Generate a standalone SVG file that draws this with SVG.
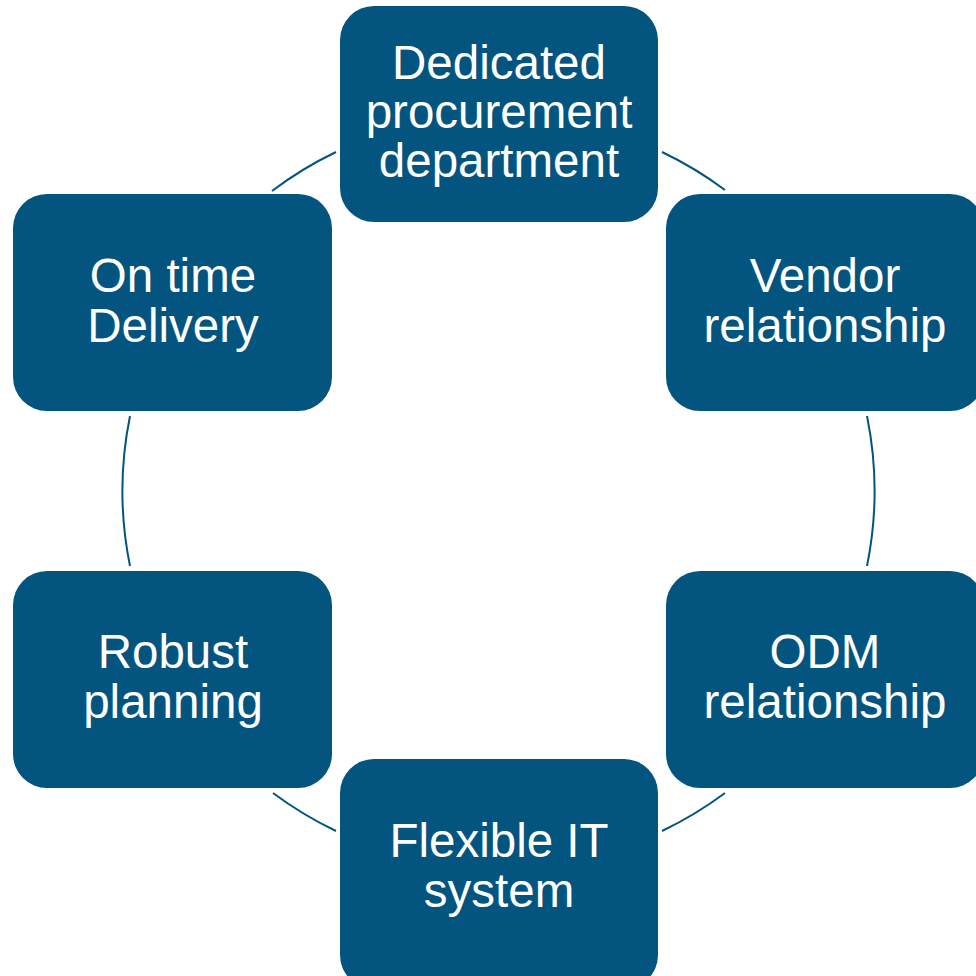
<svg xmlns="http://www.w3.org/2000/svg" width="976" height="976" viewBox="0 0 976 976">
<style>
.box{fill:#03557F;}
.lbl{fill:#FFFFFF;font-family:"Liberation Sans",Arial,sans-serif;font-size:47.5px;text-anchor:middle;}
.arc{fill:none;stroke:#03557F;stroke-width:2;}
</style>
<rect width="976" height="976" fill="#FFFFFF"/>
<g id="connectors">
<path class="arc" d="M 272 191 A 376.5 376.5 0 0 1 336 152"/>
<path class="arc" d="M 662 152 A 376.5 376.5 0 0 1 725 190"/>
<path class="arc" d="M 867 416 A 376.5 376.5 0 0 1 867 566"/>
<path class="arc" d="M 725 793 A 376.5 376.5 0 0 1 662 831"/>
<path class="arc" d="M 336 831 A 376.5 376.5 0 0 1 273 793"/>
<path class="arc" d="M 130 566 A 376.5 376.5 0 0 1 130 416"/>
</g>
<g id="node-procurement">
<rect class="box" x="340" y="6" width="318" height="216" rx="34"/>
<text class="lbl"><tspan x="499" y="79">Dedicated</tspan><tspan x="499" y="128">procurement</tspan><tspan x="499" y="177">department</tspan></text>
</g>
<g id="node-vendor">
<rect class="box" x="666" y="194" width="318" height="217" rx="34"/>
<text class="lbl"><tspan x="825" y="292">Vendor</tspan><tspan x="825" y="342">relationship</tspan></text>
</g>
<g id="node-odm">
<rect class="box" x="666" y="571" width="318" height="217" rx="34"/>
<text class="lbl"><tspan x="825" y="668">ODM</tspan><tspan x="825" y="718">relationship</tspan></text>
</g>
<g id="node-it">
<rect class="box" x="340" y="759" width="318" height="230" rx="34"/>
<text class="lbl"><tspan x="499" y="857">Flexible IT</tspan><tspan x="499" y="907">system</tspan></text>
</g>
<g id="node-planning">
<rect class="box" x="13" y="571" width="319" height="217" rx="34"/>
<text class="lbl"><tspan x="173" y="668">Robust</tspan><tspan x="173" y="718">planning</tspan></text>
</g>
<g id="node-delivery">
<rect class="box" x="13" y="194" width="319" height="217" rx="34"/>
<text class="lbl"><tspan x="173" y="292">On time</tspan><tspan x="173" y="342">Delivery</tspan></text>
</g>
</svg>
